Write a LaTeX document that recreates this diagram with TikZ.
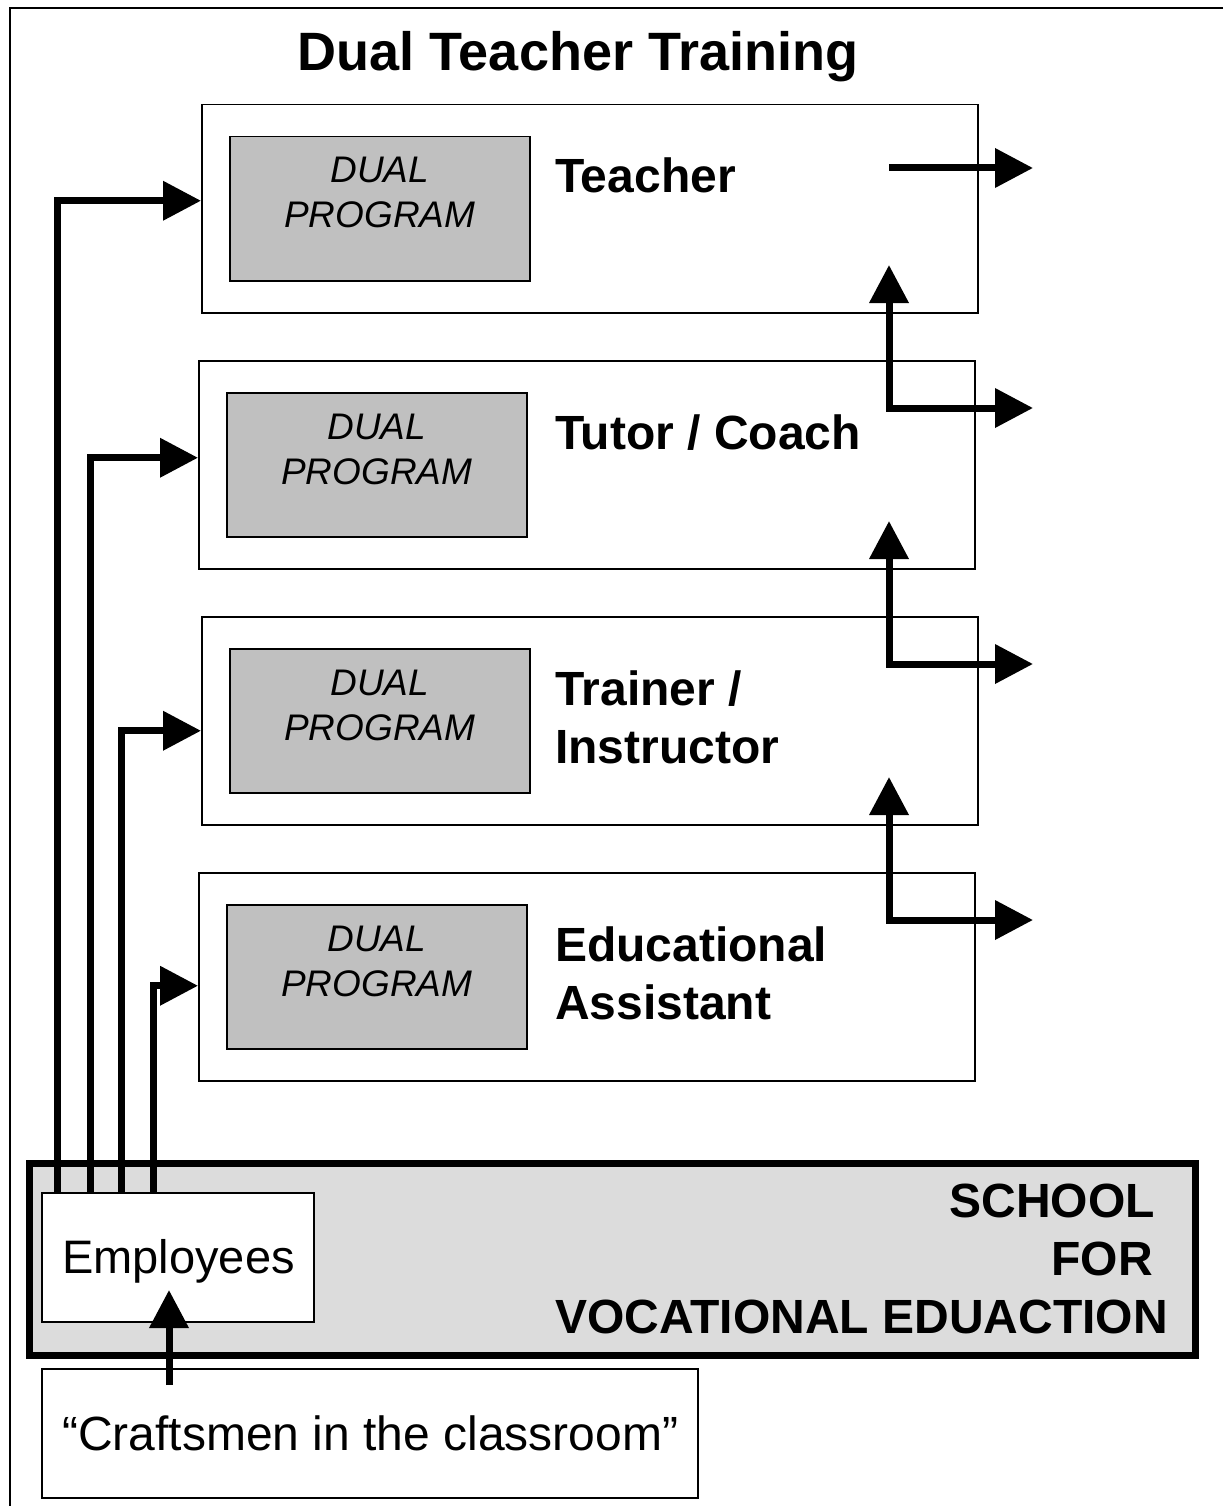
\documentclass[tikz,border=0pt]{standalone}
\usepackage{fontspec}
\setmainfont{Liberation Sans}
\usetikzlibrary{arrows.meta}
\definecolor{dualgray}{HTML}{C0C0C0}
\definecolor{schoolgray}{HTML}{DCDCDC}
\begin{document}
\begin{tikzpicture}[x=1pt,y=-1pt,
  rolebox/.style={draw, line width=1.5pt, fill=white, inner sep=0pt, anchor=north west, minimum width=776pt, minimum height=208pt},
  dualbox/.style={draw, line width=1.5pt, fill=dualgray, inner sep=0pt, anchor=north west, minimum width=300pt, minimum height=144pt},
  plainbox/.style={draw, line width=1.5pt, fill=white, inner sep=0pt, anchor=north west},
  dualtext/.style={inner sep=0pt, anchor=base, font=\fontsize{37}{44}\selectfont\itshape},
  roletext/.style={inner sep=0pt, anchor=base west, font=\fontsize{48}{56}\selectfont\bfseries},
  arr/.style={line width=7pt, -{Triangle[length=38pt, width=38pt]}},
  darr/.style={line width=7pt, {Triangle[length=38pt, width=38pt]}-{Triangle[length=38pt, width=38pt]}},
]
\useasboundingbox (0,0) rectangle (1223,1506);
% outer frame (top and left edges visible)
\draw[line width=2pt] (1223,8) -- (10,8) -- (10,1506);
% title
\node[inner sep=0pt, anchor=base, font=\fontsize{54}{60}\selectfont\bfseries] (title) at (578,71) {Dual Teacher Training};
% role boxes
\node[rolebox] (b1) at (201,104) {};
\node[rolebox] (b2) at (198,360) {};
\node[rolebox] (b3) at (201,616) {};
\node[rolebox] (b4) at (198,872) {};
% dual program boxes
\node[dualbox] (g1) at (229,136) {};
\node[dualbox] (g2) at (226,392) {};
\node[dualbox] (g3) at (229,648) {};
\node[dualbox] (g4) at (226,904) {};
\foreach \g in {g1,g2,g3,g4}{
  \node[dualtext] at ([yshift=-47pt]\g.north) {DUAL};
  \node[dualtext] at ([yshift=-92pt]\g.north) {PROGRAM};
}
% role labels
\node[roletext] (t1) at (555,193) {Teacher};
\node[roletext] (t2) at (555,449) {Tutor / Coach};
\node[roletext] (t3a) at (555,705) {Trainer /};
\node[roletext] (t3b) at (555,763) {Instructor};
\node[roletext] (t4a) at (555,961) {Educational};
\node[roletext] (t4b) at (555,1019) {Assistant};
% school box
\node[draw, line width=7pt, fill=schoolgray, inner sep=0pt, anchor=north west, minimum width=1166pt, minimum height=192pt] (school) at (26,1160) {};
\node[roletext, anchor=base east] (s1) at (1155,1217) {SCHOOL};
\node[roletext, anchor=base east] (s2) at (1153,1275) {FOR};
\node[roletext, anchor=base east] (s3) at (1168,1333) {VOCATIONAL EDUACTION};
% employees and craftsmen
\node[plainbox, minimum width=272pt, minimum height=129pt] (emp) at (41,1192) {};
\node[inner sep=0pt, anchor=base west, font=\fontsize{47}{56}\selectfont] (empt) at (62,1273) {Employees};
\node[plainbox, minimum width=656pt, minimum height=129pt] (craft) at (41,1368) {};
\node[inner sep=0pt, anchor=base west, font=\fontsize{48}{56}\selectfont] (craftt) at (62,1450) {“Craftsmen in the classroom”};
% arrows from employees to the role boxes
\draw[arr] (57,0 |- emp.north) |- ([yshift=8pt]b1.west);
\draw[arr] (90,0 |- emp.north) |- ([yshift=7pt]b2.west);
\draw[arr] (121,0 |- emp.north) |- ([yshift=-10pt]b3.west);
\draw[arr] (153,0 |- emp.north) |- ([yshift=-9pt]b4.west);
% craftsmen -> employees
\coordinate (cstart) at (169,1385);
\coordinate (ctip) at (169,1290);
\draw[arr] (cstart) -- (ctip);
% right arrows
\coordinate (r0s) at (889,168);
\coordinate (r0e) at (1033,168);
\draw[arr] (r0s) -- (r0e);
\coordinate (u1) at (889,265);
\coordinate (r1) at (1033,408);
\draw[darr] (u1) |- (r1);
\coordinate (u2) at (889,521);
\coordinate (r2) at (1033,664);
\draw[darr] (u2) |- (r2);
\coordinate (u3) at (889,777);
\coordinate (r3) at (1033,920);
\draw[darr] (u3) |- (r3);
\end{tikzpicture}
\end{document}
